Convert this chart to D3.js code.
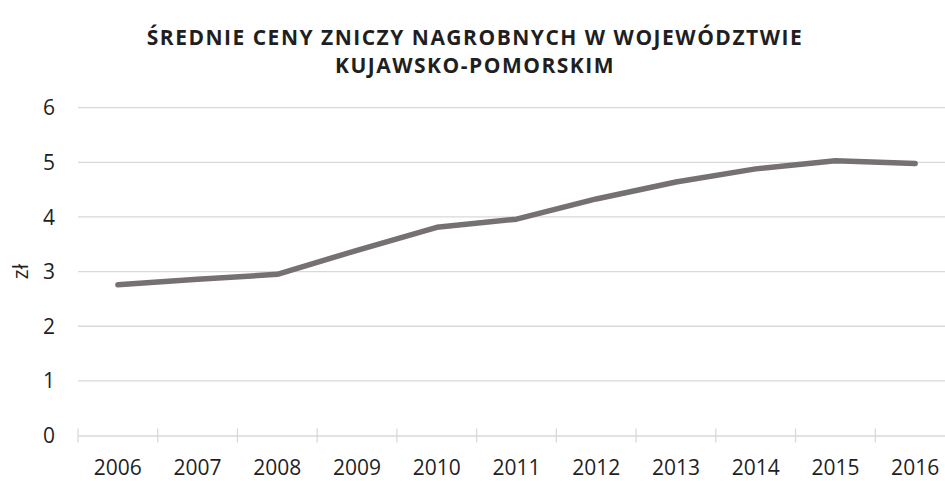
<!DOCTYPE html>
<html>
<head>
<meta charset="utf-8">
<script src="https://cdn.jsdelivr.net/npm/d3@7"></script>
<style>
    body { margin: 0; background: #fff; }
    text { font-family: "Open Sans", sans-serif; fill: #1f1f1f; }
</style>
</head>
<body>
<svg id="chart"></svg>
<script>
// data
const years = ["2006", "2007", "2008", "2009", "2010", "2011", "2012", "2013", "2014", "2015", "2016"];
const prices = [2.76, 2.86, 2.95, 3.39, 3.81, 3.96, 4.33, 4.64, 4.88, 5.03, 4.98];
const yTicks = [0, 1, 2, 3, 4, 5, 6];
const titleLines = ["ŚREDNIE CENY ZNICZY NAGROBNYCH W WOJEWÓDZTWIE", "KUJAWSKO-POMORSKIM"];

const width = 945;
const height = 481;
const plotLeft = 78, plotRight = 955, plotTop = 107.7, plotBottom = 435.5;

var svg = d3.select("#chart")
    .attr("width", width)
    .attr("height", height);

var x = d3.scaleBand()
    .domain(years)
    .range([plotLeft, plotRight]);

var y = d3.scaleLinear()
    .domain([0, 6])
    .range([plotBottom, plotTop]);

// title
svg.append("text")
    .attr("x", 475)
    .attr("y", 45)
    .attr("text-anchor", "middle")
    .style("font-size", "21px")
    .style("font-weight", "bold")
    .style("letter-spacing", "1.5px")
    .selectAll("tspan")
    .data(titleLines)
    .enter().append("tspan")
    .attr("x", 475)
    .attr("dy", function (d, i) { return i === 0 ? 0 : 28; })
    .text(function (d) { return d; });

// gridlines
svg.append("g")
    .selectAll("line")
    .data(yTicks.slice(1))
    .enter().append("line")
    .attr("x1", plotLeft)
    .attr("x2", plotRight)
    .attr("y1", function (d) { return y(d); })
    .attr("y2", function (d) { return y(d); })
    .attr("stroke", "#d9d9d9")
    .attr("stroke-width", 1.3);

// y labels
svg.append("g")
    .selectAll("text")
    .data(yTicks)
    .enter().append("text")
    .attr("x", 55)
    .attr("y", function (d) { return y(d); })
    .attr("dy", "0.36em")
    .attr("text-anchor", "end")
    .style("font-size", "21px")
    .text(function (d) { return d; });

// x axis
var xAxis = d3.axisBottom(x)
    .tickSize(0)
    .tickPadding(0);

var gx = svg.append("g")
    .attr("transform", "translate(0," + plotBottom + ")")
    .call(xAxis);

gx.select(".domain")
    .attr("stroke", "#d9d9d9")
    .attr("stroke-width", 1.3);

gx.selectAll("text")
    .attr("y", 39.5)
    .attr("dy", null)
    .style("font-size", "21px")
    .style("font-family", "'Open Sans', sans-serif")
    .attr("fill", "#1f1f1f");

// boundary tick marks
svg.append("g")
    .selectAll("line")
    .data(years)
    .enter().append("line")
    .attr("x1", function (d) { return x(d); })
    .attr("x2", function (d) { return x(d); })
    .attr("y1", plotBottom - 7)
    .attr("y2", plotBottom + 7)
    .attr("stroke", "#d9d9d9")
    .attr("stroke-width", 1.3);

// y axis title
svg.append("text")
    .attr("transform", "translate(20," + y(3) + ") rotate(-90)")
    .attr("text-anchor", "middle")
    .attr("dy", "0.36em")
    .style("font-size", "21px")
    .text("zł");

// the line
var line = d3.line()
    .x(function (d, i) { return x(years[i]) + x.bandwidth() / 2; })
    .y(function (d) { return y(d); });

svg.append("path")
    .datum(prices)
    .attr("fill", "none")
    .attr("stroke", "#767171")
    .attr("stroke-width", 5.5)
    .attr("stroke-linecap", "round")
    .attr("stroke-linejoin", "round")
    .attr("d", line);
</script>
</body>
</html>
